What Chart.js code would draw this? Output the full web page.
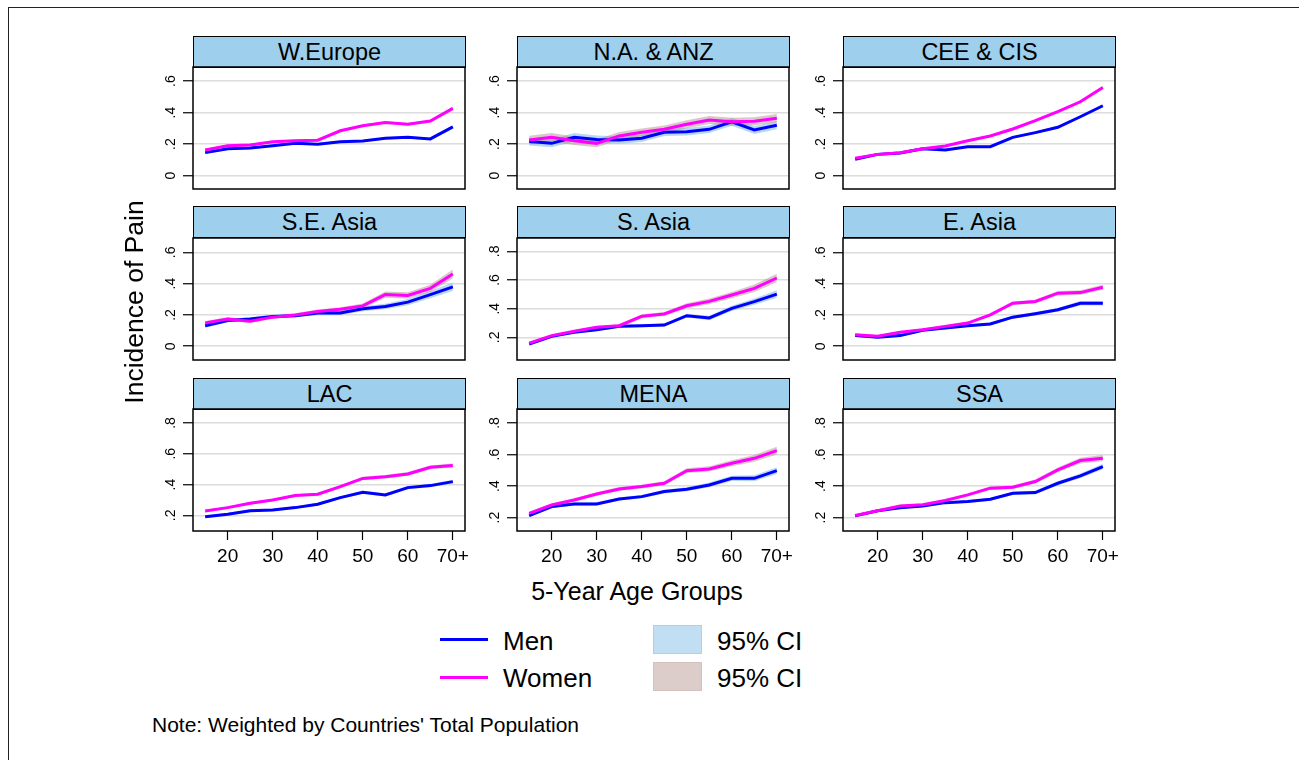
<!DOCTYPE html>
<html>
<head>
<meta charset="utf-8">
<script src="https://cdn.jsdelivr.net/npm/chart.js@4.4.1/dist/chart.umd.min.js"></script>
<style>
  body { margin: 0; background: #fff; font-family: "Liberation Sans", Arial, sans-serif; color: #000; }
  #page { position: relative; width: 1299px; height: 760px; overflow: hidden; }
  .frame { position: absolute; left: 8px; top: 7px; width: 1290px; height: 760px; border-left: 1.5px solid #222; border-top: 1.5px solid #222; }
  .head { position: absolute; box-sizing: border-box; height: 32px; border: 1px solid #000; background: #9ecfec;
          text-align: center; font-size: 23.5px; line-height: 30px; }
  .cv { position: absolute; }
  .txt { position: absolute; white-space: nowrap; line-height: 1; }
  .swatch { position: absolute; box-sizing: border-box; }
</style>
</head>
<body>
<div id="page">
  <div class="frame"></div>
</div>
<script>
// age groups (x) and tick labels
const ages = [15, 20, 25, 30, 35, 40, 45, 50, 55, 60, 65, 70];
const xTickValues = [20, 30, 40, 50, 60, 70];
const xTickLabels = ['20', '30', '40', '50', '60', '70+'];

const yTicksLow = [0, 0.2, 0.4, 0.6];
const yLabelsLow = ['0', '.2', '.4', '.6'];
const yTicksHigh = [0.2, 0.4, 0.6, 0.8];
const yLabelsHigh = ['.2', '.4', '.6', '.8'];

const regions = ['W.Europe', 'N.A. & ANZ', 'CEE & CIS', 'S.E. Asia', 'S. Asia', 'E. Asia', 'LAC', 'MENA', 'SSA'];

// incidence of pain, men / women, with 95% CI half-widths
const weMen = [0.146, 0.170, 0.175, 0.190, 0.205, 0.200, 0.215, 0.220, 0.237, 0.243, 0.233, 0.310];
const weWomen = [0.163, 0.190, 0.195, 0.215, 0.222, 0.225, 0.285, 0.317, 0.338, 0.326, 0.347, 0.427];
const weMenCI = [0.008, 0.007, 0.007, 0.007, 0.007, 0.007, 0.007, 0.007, 0.007, 0.007, 0.008, 0.009];
const weWomenCI = [0.008, 0.007, 0.007, 0.007, 0.007, 0.007, 0.007, 0.007, 0.007, 0.008, 0.008, 0.010];

const naMen = [0.216, 0.205, 0.243, 0.230, 0.226, 0.237, 0.275, 0.279, 0.294, 0.342, 0.290, 0.320];
const naWomen = [0.226, 0.243, 0.222, 0.205, 0.252, 0.275, 0.294, 0.326, 0.353, 0.342, 0.345, 0.364];
const naMenCI = [0.025, 0.025, 0.027, 0.025, 0.024, 0.024, 0.024, 0.024, 0.024, 0.025, 0.025, 0.025];
const naWomenCI = [0.027, 0.027, 0.027, 0.025, 0.025, 0.025, 0.025, 0.025, 0.025, 0.025, 0.025, 0.027];

const ceeMen = [0.104, 0.135, 0.144, 0.170, 0.163, 0.184, 0.184, 0.243, 0.273, 0.307, 0.374, 0.444];
const ceeWomen = [0.110, 0.135, 0.146, 0.170, 0.188, 0.222, 0.252, 0.296, 0.349, 0.406, 0.469, 0.560];
const ceeMenCI = [0.006, 0.006, 0.006, 0.006, 0.006, 0.006, 0.006, 0.007, 0.007, 0.008, 0.008, 0.009];
const ceeWomenCI = [0.006, 0.006, 0.006, 0.006, 0.006, 0.006, 0.006, 0.007, 0.007, 0.008, 0.009, 0.010];

const seaMen = [0.131, 0.165, 0.174, 0.190, 0.195, 0.212, 0.212, 0.240, 0.254, 0.282, 0.330, 0.380];
const seaWomen = [0.148, 0.174, 0.160, 0.186, 0.200, 0.222, 0.237, 0.258, 0.330, 0.325, 0.370, 0.462];
const seaMenCI = [0.013, 0.011, 0.011, 0.011, 0.011, 0.012, 0.013, 0.016, 0.018, 0.020, 0.023, 0.027];
const seaWomenCI = [0.013, 0.011, 0.011, 0.011, 0.011, 0.013, 0.013, 0.016, 0.020, 0.020, 0.023, 0.029];

const saMen = [0.153, 0.207, 0.235, 0.253, 0.277, 0.281, 0.286, 0.351, 0.335, 0.402, 0.449, 0.502];
const saWomen = [0.160, 0.212, 0.242, 0.270, 0.281, 0.347, 0.363, 0.420, 0.451, 0.495, 0.542, 0.614];
const saMenCI = [0.008, 0.008, 0.008, 0.008, 0.010, 0.010, 0.010, 0.013, 0.015, 0.018, 0.022, 0.026];
const saWomenCI = [0.008, 0.008, 0.008, 0.010, 0.010, 0.012, 0.014, 0.017, 0.020, 0.022, 0.026, 0.030];

const eaMen = [0.068, 0.057, 0.068, 0.102, 0.117, 0.131, 0.142, 0.186, 0.208, 0.233, 0.275, 0.275];
const eaWomen = [0.074, 0.064, 0.089, 0.106, 0.127, 0.148, 0.200, 0.275, 0.286, 0.339, 0.343, 0.377];
const eaMenCI = [0.008, 0.008, 0.008, 0.008, 0.008, 0.008, 0.009, 0.010, 0.011, 0.012, 0.014, 0.015];
const eaWomenCI = [0.008, 0.008, 0.008, 0.008, 0.008, 0.009, 0.010, 0.011, 0.012, 0.014, 0.015, 0.016];

const lacMen = [0.191, 0.207, 0.230, 0.235, 0.250, 0.272, 0.315, 0.350, 0.332, 0.380, 0.393, 0.419];
const lacWomen = [0.228, 0.250, 0.278, 0.300, 0.328, 0.337, 0.386, 0.440, 0.451, 0.469, 0.512, 0.523];
const lacMenCI = [0.008, 0.008, 0.008, 0.008, 0.008, 0.009, 0.009, 0.010, 0.010, 0.010, 0.011, 0.012];
const lacWomenCI = [0.008, 0.008, 0.008, 0.008, 0.009, 0.009, 0.010, 0.010, 0.011, 0.012, 0.012, 0.013];

const menaMen = [0.213, 0.270, 0.287, 0.287, 0.318, 0.333, 0.365, 0.380, 0.407, 0.449, 0.449, 0.498];
const menaWomen = [0.227, 0.280, 0.312, 0.350, 0.382, 0.397, 0.418, 0.498, 0.509, 0.545, 0.576, 0.625];
const menaMenCI = [0.010, 0.010, 0.010, 0.010, 0.010, 0.011, 0.012, 0.013, 0.015, 0.017, 0.019, 0.022];
const menaWomenCI = [0.010, 0.010, 0.010, 0.011, 0.012, 0.012, 0.013, 0.015, 0.017, 0.019, 0.021, 0.025];

const ssaMen = [0.211, 0.244, 0.263, 0.274, 0.295, 0.302, 0.316, 0.354, 0.359, 0.418, 0.465, 0.524];
const ssaWomen = [0.213, 0.244, 0.274, 0.282, 0.308, 0.344, 0.387, 0.393, 0.429, 0.503, 0.562, 0.577];
const ssaMenCI = [0.006, 0.006, 0.007, 0.007, 0.008, 0.008, 0.009, 0.010, 0.011, 0.013, 0.015, 0.017];
const ssaWomenCI = [0.006, 0.006, 0.007, 0.007, 0.008, 0.009, 0.010, 0.011, 0.013, 0.015, 0.018, 0.020];

const FONT = '"Liberation Sans", Arial, sans-serif';
const BLUE = '#0000ff';
const MAGENTA = '#ff00ff';
const BAND_MEN = 'rgba(135, 192, 235, 0.6)';
const BAND_WOMEN = 'rgba(170, 135, 128, 0.45)';

const panels = [
  { title: regions[0], men: weMen, women: weWomen, menCI: weMenCI, womenCI: weWomenCI, ticks: yTicksLow, labels: yLabelsLow, min: -0.085, max: 0.69 },
  { title: regions[1], men: naMen, women: naWomen, menCI: naMenCI, womenCI: naWomenCI, ticks: yTicksLow, labels: yLabelsLow, min: -0.085, max: 0.69 },
  { title: regions[2], men: ceeMen, women: ceeWomen, menCI: ceeMenCI, womenCI: ceeWomenCI, ticks: yTicksLow, labels: yLabelsLow, min: -0.085, max: 0.69 },
  { title: regions[3], men: seaMen, women: seaWomen, menCI: seaMenCI, womenCI: seaWomenCI, ticks: yTicksLow, labels: yLabelsLow, min: -0.088, max: 0.692 },
  { title: regions[4], men: saMen, women: saWomen, menCI: saMenCI, womenCI: saWomenCI, ticks: yTicksHigh, labels: yLabelsHigh, min: 0.042, max: 0.893 },
  { title: regions[5], men: eaMen, women: eaWomen, menCI: eaMenCI, womenCI: eaWomenCI, ticks: yTicksLow, labels: yLabelsLow, min: -0.088, max: 0.692 },
  { title: regions[6], men: lacMen, women: lacWomen, menCI: lacMenCI, womenCI: lacWomenCI, ticks: yTicksHigh, labels: yLabelsHigh, min: 0.098, max: 0.891 },
  { title: regions[7], men: menaMen, women: menaWomen, menCI: menaMenCI, womenCI: menaWomenCI, ticks: yTicksHigh, labels: yLabelsHigh, min: 0.115, max: 0.889 },
  { title: regions[8], men: ssaMen, women: ssaWomen, menCI: ssaMenCI, womenCI: ssaWomenCI, ticks: yTicksHigh, labels: yLabelsHigh, min: 0.115, max: 0.889 }
];

// layout of the grid of panels
const plotLeft = [193, 517, 843];
const headTop = [36, 206, 378];
const plotTop = [67, 238, 409];
const PLOT_W = 272, PLOT_H = 122;
const YW = 50, PAD_R = 6, PAD_T = 4, PAD_B = 4, XH = 46;

const page = document.getElementById('page');

const framePlugin = {
  id: 'frame',
  afterDraw(chart) {
    const { ctx, chartArea: a } = chart;
    ctx.save();
    ctx.strokeStyle = '#000';
    ctx.lineWidth = 1.5;
    ctx.strokeRect(a.left, a.top, a.right - a.left, a.bottom - a.top);
    ctx.restore();
  }
};

function noPad(s) {
  s.paddingTop = 0; s.paddingBottom = 0; s.paddingLeft = 0; s.paddingRight = 0;
}

function pts(vals, ci, sign) {
  return ages.map((a, i) => ({ x: a, y: vals[i] + sign * ci[i] }));
}

panels.forEach((p, k) => {
  const col = k % 3, row = Math.floor(k / 3);
  const bottomRow = row === 2;

  const head = document.createElement('div');
  head.className = 'head';
  head.style.left = plotLeft[col] + 'px';
  head.style.top = headTop[row] + 'px';
  head.style.width = (PLOT_W + 1) + 'px';
  head.textContent = p.title;
  page.appendChild(head);

  const w = YW + PLOT_W + PAD_R;
  const h = PAD_T + PLOT_H + (bottomRow ? XH : PAD_B);
  const cv = document.createElement('canvas');
  cv.className = 'cv';
  cv.width = w; cv.height = h;
  cv.style.left = (plotLeft[col] - YW) + 'px';
  cv.style.top = (plotTop[row] - PAD_T) + 'px';
  cv.style.width = w + 'px'; cv.style.height = h + 'px';
  page.appendChild(cv);

  const xScale = {
    type: 'linear', min: 12.3, max: 72.7, display: bottomRow,
    afterBuildTicks: s => { s.ticks = xTickValues.map(v => ({ value: v })); },
    afterFit: s => { noPad(s); if (bottomRow) s.height = XH; },
    grid: { drawOnChartArea: false, drawTicks: true, tickLength: 9, tickColor: '#000', tickWidth: 1.2 },
    border: { display: false },
    ticks: {
      color: '#000', font: { size: 19, family: FONT }, padding: 5,
      maxRotation: 0, autoSkip: false,
      callback: v => xTickLabels[xTickValues.indexOf(v)]
    }
  };

  new Chart(cv.getContext('2d'), {
    type: 'line',
    data: {
      datasets: [
        { data: pts(p.men, p.menCI, -1), borderColor: 'rgba(0,0,0,0)', borderWidth: 0, pointRadius: 0, fill: false, order: 5 },
        { data: pts(p.men, p.menCI, 1), borderColor: 'rgba(0,0,0,0)', borderWidth: 0, pointRadius: 0, fill: '-1', backgroundColor: BAND_MEN, order: 4 },
        { data: pts(p.women, p.womenCI, -1), borderColor: 'rgba(0,0,0,0)', borderWidth: 0, pointRadius: 0, fill: false, order: 3 },
        { data: pts(p.women, p.womenCI, 1), borderColor: 'rgba(0,0,0,0)', borderWidth: 0, pointRadius: 0, fill: '-1', backgroundColor: BAND_WOMEN, order: 2 },
        { label: 'Men', data: ages.map((a, i) => ({ x: a, y: p.men[i] })), borderColor: BLUE, borderWidth: 3, pointRadius: 0, tension: 0, fill: false, order: 1 },
        { label: 'Women', data: ages.map((a, i) => ({ x: a, y: p.women[i] })), borderColor: MAGENTA, borderWidth: 3, pointRadius: 0, tension: 0, fill: false, order: 0 }
      ]
    },
    options: {
      responsive: false,
      animation: false,
      events: [],
      layout: { padding: { top: PAD_T, right: PAD_R, bottom: bottomRow ? 0 : PAD_B, left: 0 } },
      plugins: {
        legend: { display: false },
        tooltip: { enabled: false },
        filler: { drawTime: 'beforeDatasetsDraw' }
      },
      scales: {
        x: xScale,
        y: {
          min: p.min, max: p.max,
          afterBuildTicks: s => { s.ticks = p.ticks.map(v => ({ value: v })); },
          afterFit: s => { noPad(s); s.width = YW; },
          grid: { color: '#dcdcdc', lineWidth: 1.5, tickColor: '#000', tickLength: 10, tickWidth: 1.2 },
          border: { display: false },
          ticks: {
            minRotation: 90, maxRotation: 90, crossAlign: 'center', padding: 6, autoSkip: false,
            color: '#000', font: { size: 14, family: FONT },
            callback: (v, i) => p.labels[i]
          }
        }
      }
    },
    plugins: [framePlugin]
  });
});

// axis titles, legend and note
function addText(str, left, top, size, extra) {
  const d = document.createElement('div');
  d.className = 'txt';
  d.textContent = str;
  d.style.left = left + 'px';
  d.style.top = top + 'px';
  d.style.fontSize = size + 'px';
  if (extra) Object.assign(d.style, extra);
  page.appendChild(d);
  return d;
}

addText('Incidence of Pain', -16, 287, 26.5, { width: '300px', height: '30px', lineHeight: '30px', textAlign: 'center', transform: 'rotate(-90deg)' });
addText('5-Year Age Groups', 437, 579, 25, { width: '400px', textAlign: 'center' });

function addLine(color, top) {
  const d = document.createElement('div');
  d.className = 'swatch';
  Object.assign(d.style, { left: '440px', top: top + 'px', width: '48px', height: '3px', background: color });
  page.appendChild(d);
}
function addBox(fill, border, top) {
  const d = document.createElement('div');
  d.className = 'swatch';
  Object.assign(d.style, { left: '653px', top: top + 'px', width: '49px', height: '29px', background: fill, border: '1.5px solid ' + border });
  page.appendChild(d);
}
addLine(BLUE, 637.5);
addLine(MAGENTA, 675.5);
addText('Men', 503, 628, 26);
addText('Women', 503, 664.5, 26);
addBox('#c0dff3', '#a9d2ee', 625);
addBox('#dccdca', '#d3c1bd', 662);
addText('95% CI', 717, 628, 26);
addText('95% CI', 717, 664.5, 26);

addText("Note: Weighted by Countries' Total Population", 152, 714, 21);
</script>
</body>
</html>
